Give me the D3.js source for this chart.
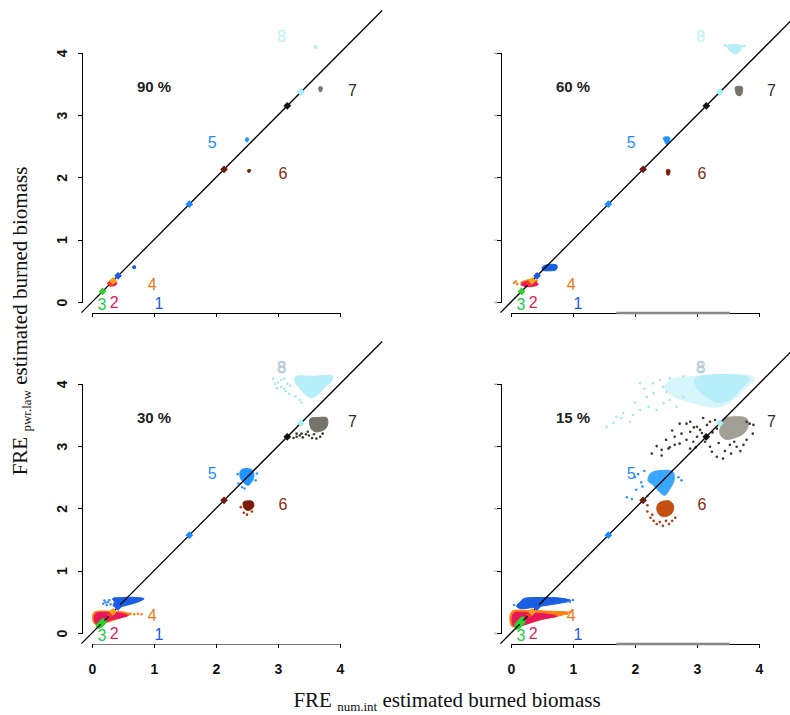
<!DOCTYPE html>
<html>
<head>
<meta charset="utf-8">
<script src="https://cdn.jsdelivr.net/npm/d3@7"></script>
<style>
  body { margin: 0; background: #fff; }
  svg { display: block; }
</style>
</head>
<body>
<svg id="chart" width="790" height="715"></svg>
<script>
// ---- data (FRE values) ----
const panelTitles = ["90 %", "60 %", "30 %", "15 %"];
const clusterNames = ["1", "2", "3", "4", "5", "6", "7", "8"];
const clusterLabelX = [1.08, 0.36, 0.16, 0.97, 1.94, 3.08, 4.20, 3.06];
const clusterLabelY = [-0.02, 0.00, -0.03, 0.29, 2.57, 2.07, 3.40, 4.27];
const referenceFRE = [0.42, 0.30, 0.17, 0.34, 1.57, 2.13, 3.15, 3.37];
const axisTicks = [0, 1, 2, 3, 4];
const oneToOne = [-0.17, 4.68];

// cloud outlines: [cluster index, density, [[num.int, pwr.law], ...]]
const clouds90 = [
  [0, "dense", [[0.65, 0.57], [0.70, 0.58], [0.70, 0.54], [0.66, 0.54]]],
  [1, "dense", [[0.26, 0.30], [0.32, 0.33], [0.40, 0.31], [0.38, 0.27], [0.30, 0.26]]],
  [3, "dense", [[0.30, 0.33], [0.36, 0.35], [0.40, 0.32]]],
  [4, "dense", [[2.48, 2.63], [2.52, 2.63], [2.51, 2.57], [2.49, 2.57]]],
  [5, "dense", [[2.51, 2.12], [2.56, 2.12], [2.54, 2.08], [2.52, 2.08]]],
  [6, "dense", [[3.66, 3.45], [3.71, 3.45], [3.70, 3.38], [3.67, 3.38]]],
  [7, "dense", [[3.58, 4.11], [3.63, 4.11], [3.62, 4.07], [3.59, 4.07]]]
];
const clouds60 = [
  [0, "dense", [[0.50, 0.55], [0.55, 0.59], [0.74, 0.59], [0.73, 0.52], [0.60, 0.50], [0.52, 0.51]]],
  [3, "dense", [[0.15, 0.31], [0.30, 0.36], [0.43, 0.34], [0.36, 0.29]]],
  [1, "dense", [[0.16, 0.28], [0.25, 0.33], [0.40, 0.32], [0.44, 0.28], [0.35, 0.25], [0.22, 0.25]]],
  [4, "dense", [[2.46, 2.64], [2.56, 2.64], [2.52, 2.52]]],
  [5, "dense", [[2.51, 2.12], [2.56, 2.12], [2.55, 2.04], [2.52, 2.04]]],
  [6, "dense", [[3.62, 3.45], [3.73, 3.45], [3.71, 3.32], [3.65, 3.32]]],
  [7, "dense", [[3.48, 4.11], [3.73, 4.11], [3.65, 3.99], [3.59, 3.99]]]
];
const clouds30 = [
  [7, "dense", [[3.28, 4.11], [3.55, 4.12], [3.88, 4.12], [3.86, 4.04], [3.76, 3.95], [3.66, 3.84], [3.55, 3.78], [3.45, 3.82], [3.36, 3.92], [3.28, 4.02]]],
  [6, "dense", [[3.52, 3.44], [3.65, 3.46], [3.79, 3.45], [3.79, 3.31], [3.72, 3.25], [3.60, 3.23], [3.53, 3.29]]],
  [4, "dense", [[2.40, 2.61], [2.50, 2.64], [2.59, 2.61], [2.61, 2.50], [2.57, 2.42], [2.52, 2.37], [2.45, 2.41], [2.39, 2.50]]],
  [5, "dense", [[2.44, 2.10], [2.50, 2.12], [2.59, 2.11], [2.61, 2.04], [2.56, 1.98], [2.50, 1.97], [2.45, 2.01]]],
  [0, "dense", [[0.33, 0.55], [0.50, 0.57], [0.72, 0.57], [0.84, 0.55], [0.75, 0.50], [0.62, 0.46], [0.50, 0.43], [0.40, 0.41], [0.34, 0.44], [0.36, 0.50]]],
  [3, "dense", [[0.03, 0.33], [0.30, 0.35], [0.55, 0.33], [0.62, 0.30], [0.50, 0.26], [0.40, 0.22], [0.20, 0.16], [0.06, 0.13], [0.01, 0.22]]],
  [1, "dense", [[0.06, 0.31], [0.30, 0.33], [0.50, 0.31], [0.58, 0.28], [0.45, 0.24], [0.30, 0.21], [0.18, 0.15], [0.09, 0.13], [0.04, 0.20]]],
  [2, "dense", [[0.07, 0.12], [0.12, 0.19], [0.19, 0.23], [0.23, 0.18], [0.15, 0.09], [0.09, 0.08]]]
];
const clouds15 = [
  [7, "sparse", [[2.55, 4.05], [3.00, 4.12], [3.88, 4.12], [3.92, 4.07], [3.80, 3.95], [3.60, 3.76], [3.40, 3.64], [3.20, 3.63], [3.00, 3.68], [2.80, 3.73], [2.60, 3.81], [2.48, 3.95]]],
  [7, "dense", [[2.98, 4.09], [3.84, 4.09], [3.70, 3.91], [3.52, 3.74], [3.36, 3.70], [3.12, 3.81], [2.99, 3.95]]],
  [6, "sparse", [[3.43, 3.44], [3.60, 3.47], [3.79, 3.45], [3.83, 3.35], [3.76, 3.21], [3.60, 3.13], [3.46, 3.11], [3.37, 3.20], [3.39, 3.35]]],
  [4, "sparse", [[2.26, 2.57], [2.45, 2.61], [2.61, 2.59], [2.63, 2.45], [2.56, 2.31], [2.48, 2.21], [2.40, 2.26], [2.31, 2.36], [2.21, 2.45]]],
  [5, "sparse", [[2.39, 2.09], [2.55, 2.12], [2.62, 2.05], [2.60, 1.93], [2.50, 1.87], [2.40, 1.89], [2.35, 2.00]]],
  [0, "dense", [[0.20, 0.55], [0.50, 0.57], [0.80, 0.56], [0.97, 0.52], [0.80, 0.48], [0.55, 0.44], [0.35, 0.41], [0.16, 0.39], [0.09, 0.43], [0.15, 0.50]]],
  [3, "dense", [[0.01, 0.34], [0.30, 0.36], [0.60, 0.35], [0.94, 0.33], [0.80, 0.28], [0.50, 0.22], [0.20, 0.13], [0.01, 0.11]]],
  [1, "dense", [[0.04, 0.31], [0.35, 0.32], [0.60, 0.30], [0.74, 0.27], [0.50, 0.22], [0.30, 0.16], [0.15, 0.11], [0.04, 0.11]]],
  [2, "dense", [[0.06, 0.12], [0.12, 0.21], [0.19, 0.26], [0.23, 0.20], [0.16, 0.09], [0.09, 0.06]]]
];

// stray points: [cluster index, num.int, pwr.law]
const dots90 = [];
const dots60 = [
  [3, 0.08, 0.33], [3, 0.10, 0.29], [3, 0.05, 0.31],
  [7, 3.45, 4.12], [7, 3.76, 4.11]
];
const dots30 = [
  [7, 2.95, 4.00], [7, 3.00, 4.02], [7, 3.05, 3.95], [7, 3.10, 3.92], [7, 3.12, 3.88],
  [7, 3.18, 3.84], [7, 3.20, 3.97], [7, 3.28, 3.80], [7, 3.35, 3.74], [7, 3.05, 4.06],
  [7, 2.98, 3.93], [7, 3.15, 4.00], [7, 3.38, 3.70], [7, 2.92, 4.08], [7, 3.10, 4.08],
  [6, 3.25, 3.13], [6, 3.30, 3.15], [6, 3.35, 3.17], [6, 3.40, 3.14], [6, 3.45, 3.19],
  [6, 3.50, 3.17], [6, 3.55, 3.13], [6, 3.62, 3.12], [6, 3.68, 3.15], [6, 3.38, 3.20],
  [6, 3.30, 3.20], [6, 3.58, 3.19], [6, 3.48, 3.23], [6, 3.72, 3.20],
  [4, 2.36, 2.40], [4, 2.42, 2.34], [4, 2.46, 2.32], [4, 2.66, 2.56], [4, 2.64, 2.45], [4, 2.35, 2.55],
  [5, 2.45, 1.93], [5, 2.50, 1.90], [5, 2.40, 2.02], [5, 2.58, 1.95],
  [0, 0.18, 0.47], [0, 0.22, 0.49], [0, 0.26, 0.50], [0, 0.30, 0.46], [0, 0.24, 0.45],
  [0, 0.28, 0.53], [0, 0.20, 0.52],
  [3, 0.62, 0.31], [3, 0.68, 0.30], [3, 0.74, 0.31], [3, 0.80, 0.30]
];
const dots15 = [
  [7, 1.54, 3.31], [7, 1.65, 3.37], [7, 1.78, 3.45], [7, 1.97, 3.50], [7, 2.08, 3.58],
  [7, 2.22, 3.63], [7, 2.35, 3.58], [7, 2.46, 3.69], [7, 2.56, 3.74], [7, 2.67, 3.63],
  [7, 2.78, 3.79], [7, 2.29, 4.01], [7, 2.40, 4.06], [7, 2.08, 4.01], [7, 2.56, 4.09],
  [7, 2.78, 4.12], [7, 2.51, 3.87], [7, 2.19, 3.79], [7, 1.92, 3.39], [7, 1.81, 3.53],
  [7, 2.00, 3.70], [7, 2.30, 3.85], [7, 1.70, 3.47], [7, 2.15, 3.92], [7, 2.45, 3.95],
  [6, 2.27, 2.88], [6, 2.43, 2.94], [6, 2.56, 2.98], [6, 2.64, 3.02], [6, 2.72, 3.04],
  [6, 2.83, 3.10], [6, 2.89, 2.96], [6, 2.94, 3.07], [6, 3.00, 3.15], [6, 3.08, 3.21],
  [6, 2.72, 3.36], [6, 2.83, 3.36], [6, 2.89, 3.39], [6, 3.00, 3.31], [6, 3.05, 3.26],
  [6, 3.16, 3.34], [6, 3.21, 3.39], [6, 3.29, 3.42], [6, 3.32, 3.28], [6, 2.89, 3.23],
  [6, 3.13, 3.07], [6, 3.21, 2.99], [6, 3.32, 2.83], [6, 3.42, 2.80], [6, 3.24, 2.91],
  [6, 3.53, 3.02], [6, 3.64, 2.99], [6, 3.75, 3.02], [6, 3.80, 3.10], [6, 3.85, 3.36],
  [6, 3.91, 3.34], [6, 3.80, 3.39], [6, 2.64, 3.15], [6, 2.54, 2.96], [6, 2.43, 2.85],
  [6, 2.50, 3.10], [6, 2.60, 3.25], [6, 2.75, 3.20], [6, 2.95, 3.30], [6, 3.10, 3.45],
  [6, 3.15, 3.15], [6, 3.35, 3.05], [6, 3.45, 2.92], [6, 3.60, 3.07], [6, 3.70, 2.92],
  [6, 2.35, 3.00], [6, 2.98, 2.98], [6, 3.25, 3.22], [6, 3.90, 3.20], [6, 3.55, 2.88],
  [4, 1.87, 2.18], [4, 1.95, 2.15], [4, 2.00, 2.50], [4, 2.05, 2.55], [4, 2.10, 2.42],
  [4, 2.15, 2.60], [4, 2.12, 2.35], [4, 2.70, 2.50], [4, 2.75, 2.45], [4, 2.02, 2.30], [4, 2.20, 2.20],
  [5, 2.20, 1.95], [5, 2.25, 1.85], [5, 2.30, 1.80], [5, 2.35, 1.75], [5, 2.45, 1.72],
  [5, 2.55, 1.75], [5, 2.60, 1.80], [5, 2.20, 2.05], [5, 2.28, 1.90], [5, 2.50, 1.80],
  [5, 2.65, 1.85], [5, 2.40, 1.78],
  [0, 0.95, 0.50], [0, 1.00, 0.53], [0, 0.05, 0.45],
  [3, 0.90, 0.31], [3, 0.96, 0.34]
];

const panelClouds = [clouds90, clouds60, clouds30, clouds15];
const panelDots = [dots90, dots60, dots30, dots15];

// ---- styles ----
const denseFill  = ["#1a5fe0", "#e8175d", "#2ad42a", "#ff7f0e", "#1e96ff", "#7e1a08", "#76746a", "#b6eff9"];
const sparseFill = ["#1a5fe0", "#e8175d", "#2ad42a", "#ff7f0e", "#3aa6ff", "#c4500f", "#a29f97", "#d6f6fc"];
const dotColor   = ["#3a94f5", "#e8175d", "#2ad42a", "#ff7f0e", "#2a9cff", "#b03a0a", "#3a3a30", "#a6e8f6"];
const labelColor = ["#1a5ce8", "#e0205a", "#22cc44", "#f07a10", "#1e8cff", "#8b2a10", "#2a2a2a", "#b8f2ff"];
const markColor  = ["#1a5ce8", "#f03a30", "#33cc33", "#ffa020", "#1e8cff", "#6e1a10", "#111111", "#a8eefc"];

const sans = "'Liberation Sans', Arial, Helvetica, sans-serif";
const serif = "'Liberation Serif', 'Times New Roman', serif";

const svg = d3.select("#chart");
const unitX = 62, unitY = 62.3;
const panels = [
  { x0: 92,  y0: 302, left: true,  bottom: false },
  { x0: 511, y0: 302, left: false, bottom: false },
  { x0: 92,  y0: 633, left: true,  bottom: true },
  { x0: 511, y0: 633, left: false, bottom: true }
];

panels.forEach(function (p, i) {
  const x = d3.scaleLinear().domain([0, 4]).range([p.x0, p.x0 + 4 * unitX]);
  const y = d3.scaleLinear().domain([0, 4]).range([p.y0, p.y0 - 4 * unitY]);
  const g = svg.append("g").attr("class", "panel");

  // clouds
  const outline = d3.line()
      .x((d) => x(d[0]))
      .y((d) => y(d[1]))
      .curve(d3.curveCatmullRomClosed.alpha(0.5));

  g.append("g").selectAll("path")
      .data(panelClouds[i])
      .enter().append("path")
      .attr("d", (d) => outline(d[2]))
      .attr("fill", (d) => d[1] === "sparse" ? sparseFill[d[0]] : denseFill[d[0]])
      .attr("stroke", (d) => d[1] === "sparse" ? sparseFill[d[0]] : denseFill[d[0]])
      .attr("stroke-width", 1);

  g.append("g").selectAll("circle")
      .data(panelDots[i])
      .enter().append("circle")
      .attr("cx", (d) => x(d[1]))
      .attr("cy", (d) => y(d[2]))
      .attr("r", 1.3)
      .attr("fill", (d) => dotColor[d[0]]);

  // 1:1 line
  g.append("line")
      .attr("x1", x(oneToOne[0])).attr("y1", y(oneToOne[0]))
      .attr("x2", x(oneToOne[1])).attr("y2", y(oneToOne[1]))
      .attr("stroke", "#000")
      .attr("stroke-width", 1.3);

  // reference values on the line
  const diamond = d3.symbol(d3.symbolSquare, 30);
  g.append("g").selectAll("path")
      .data(referenceFRE)
      .enter().append("path")
      .attr("d", diamond)
      .attr("transform", (d) => "translate(" + x(d) + "," + y(d) + ") rotate(45)")
      .attr("fill", (d, k) => markColor[k]);

  // cluster numbers
  g.append("g").selectAll("text")
      .data(clusterNames)
      .enter().append("text")
      .attr("x", (d, k) => x(clusterLabelX[k]))
      .attr("y", (d, k) => y(clusterLabelY[k]))
      .attr("dy", "0.36em")
      .attr("text-anchor", "middle")
      .attr("font-family", sans)
      .attr("font-size", 16)
      .attr("fill", (d, k) => labelColor[k])
      .attr("stroke", (d, k) => (k === 7 && p.bottom) ? "#9fbccb" : "none")
      .attr("stroke-width", 0.7)
      .style("fill", (d, k) => (k === 7 && p.bottom) ? "#eefaff" : null)
      .text((d) => d);

  // panel title
  g.append("text")
      .attr("x", x(1.0))
      .attr("y", y(3.45))
      .attr("dy", "0.36em")
      .attr("text-anchor", "middle")
      .attr("font-family", sans)
      .attr("font-weight", "bold")
      .attr("font-size", 15)
      .attr("fill", "#222")
      .text(panelTitles[i]);

  // y axis
  const yAxis = d3.axisLeft(y).tickValues(axisTicks).tickFormat(d3.format("d"))
      .tickSize(4).tickSizeOuter(0);
  const ya = g.append("g")
      .attr("transform", "translate(" + (p.x0 - 10) + ",0)")
      .call(yAxis);
  ya.selectAll("text")
      .attr("transform", "rotate(-90)")
      .attr("x", 0)
      .attr("y", p.left ? -15 : -4)
      .attr("dy", 0)
      .attr("text-anchor", "middle")
      .attr("font-family", sans)
      .attr("font-weight", "bold")
      .attr("font-size", p.left ? 14 : 4)
      .attr("fill", p.left ? "#111" : "#888");

  // x axis
  const xAxis = d3.axisBottom(x).tickValues(axisTicks).tickSize(4).tickSizeOuter(0)
      .tickFormat(p.bottom ? d3.format("d") : "");
  const xa = g.append("g")
      .attr("transform", "translate(0," + (p.y0 + 11) + ")")
      .call(xAxis);
  xa.selectAll("text")
      .attr("y", 20)
      .attr("font-family", sans)
      .attr("font-weight", "bold")
      .attr("font-size", 14)
      .attr("fill", "#111");

  if (i === 2) {
    xa.select(".domain").attr("stroke", "#777").attr("stroke-width", 1.6);
  }
  if (!p.left) {
    g.append("line")
        .attr("x1", x(1.7)).attr("x2", x(3.53))
        .attr("y1", p.y0 + 11).attr("y2", p.y0 + 11)
        .attr("stroke", "#888")
        .attr("stroke-width", 2.5);
  }
  g.selectAll(".domain, .tick line").attr("shape-rendering", "crispEdges");
});

// axis titles
const yTitle = svg.append("text")
    .attr("transform", "translate(27,321) rotate(-90)")
    .attr("text-anchor", "middle")
    .attr("font-family", serif)
    .attr("font-size", 21)
    .attr("fill", "#111");
yTitle.append("tspan").text("FRE ");
yTitle.append("tspan").attr("font-size", 13).attr("dy", 4).text("pwr.law");
yTitle.append("tspan").attr("dy", -4).text(" estimated burned biomass");

const xTitle = svg.append("text")
    .attr("x", 447)
    .attr("y", 707)
    .attr("text-anchor", "middle")
    .attr("font-family", serif)
    .attr("font-size", 21)
    .attr("fill", "#111");
xTitle.append("tspan").text("FRE ");
xTitle.append("tspan").attr("font-size", 13).attr("dy", 4).text("num.int");
xTitle.append("tspan").attr("dy", -4).text(" estimated burned biomass");
</script>
</body>
</html>
